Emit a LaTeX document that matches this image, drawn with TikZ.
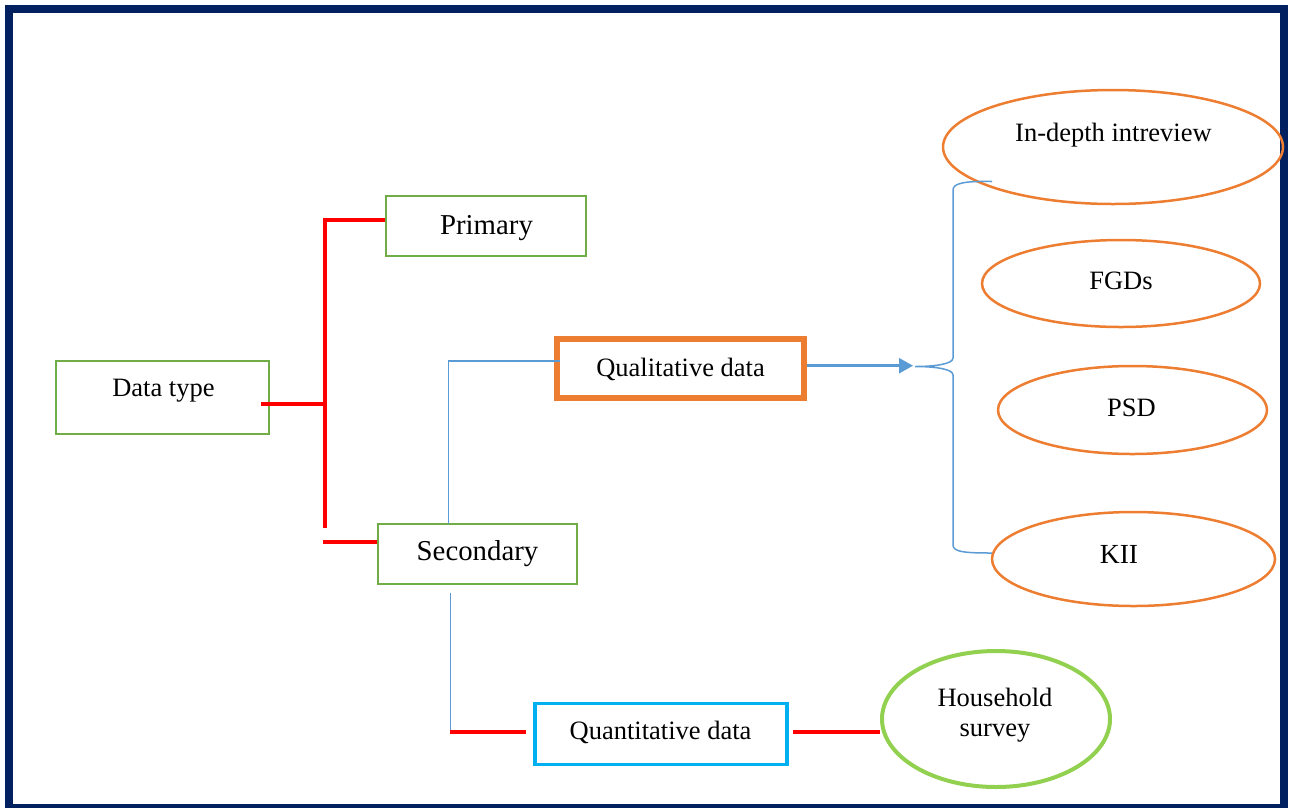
\documentclass[tikz,border=0pt]{standalone}
\usepackage{fontspec}
\setmainfont{Liberation Serif}
\usetikzlibrary{shapes.geometric,arrows.meta}

\definecolor{navy}{HTML}{002060}
\definecolor{boxgreen}{HTML}{70AD47}
\definecolor{ovalorange}{HTML}{ED7D31}
\definecolor{linkblue}{HTML}{5B9BD5}
\definecolor{quantcyan}{HTML}{00B0F0}
\definecolor{lightgreen}{HTML}{92D050}

\tikzset{
  gbox/.style={draw=boxgreen, line width=2, inner sep=0, rectangle},
  oval/.style={draw=ovalorange, line width=2.5, ellipse, inner sep=0},
  txt/.style={font=\fontsize{26.5}{30}\selectfont, anchor=base, inner sep=0},
  bigtxt/.style={font=\fontsize{28.8}{32}\selectfont, anchor=base, inner sep=0},
  redlink/.style={draw=red, line width=4},
  bluelink/.style={draw=linkblue, line width=1.5},
}

\begin{document}
\begin{tikzpicture}[x=1pt, y=-1pt]
\useasboundingbox (0,0) rectangle (1290,807);

% outer frame
\draw[navy, line width=8] (9,9) rectangle (1284,808);

% boxes
\node[gbox, minimum width=213, minimum height=73] (dt) at (162.5,397.5) {};
\node[txt] (dtt) at (163.4,396.7) {Data type};

\node[gbox, minimum width=200, minimum height=60] (prim) at (486,226) {};
\node[bigtxt] (primt) at (486.5,234) {Primary};

\node[gbox, minimum width=199, minimum height=60] (sec) at (477.5,554) {};
\node[bigtxt] (sect) at (477.5,560) {Secondary};

\node[draw=ovalorange, line width=6, inner sep=0, minimum width=247, minimum height=59] (qual) at (680.5,368.5) {};
\node[txt] (qualt) at (680.5,376.5) {Qualitative data};

\node[draw=quantcyan, line width=3.5, inner sep=0, minimum width=252, minimum height=61] (quant) at (661,734) {};
\node[txt] (quantt) at (660.5,739.5) {Quantitative data};

% ovals
\node[oval, minimum width=340, minimum height=114] (idi) at (1113,147) {};
\node[txt] (idit) at (1113.4,141.7) {In-depth intreview};

\node[oval, minimum width=278, minimum height=87] (fgd) at (1121,283.5) {};
\node[txt] (fgdt) at (1121,289.5) {FGDs};

\node[oval, minimum width=269, minimum height=88] (psd) at (1132.5,410) {};
\node[txt] (psdt) at (1131.5,416.5) {PSD};

\node[oval, minimum width=283, minimum height=94] (kii) at (1133.5,559) {};
\node[font=\fontsize{27.6}{30}\selectfont, anchor=base, inner sep=0] (kiit) at (1119,563.3) {KII};

\node[draw=lightgreen, line width=4, ellipse, inner sep=0, minimum width=228, minimum height=136] (hh) at (996,719) {};
\node[font=\fontsize{26.5}{30}\selectfont, align=center, inner sep=0] (hht) at (995,715.5) {Household\\survey};

% red tree from Data type
\coordinate (dtout) at (261,404);
\coordinate (trunkmid) at (324.7,404);
\coordinate (trunktop) at (324.7,220);
\coordinate (trunkbot) at (324.7,528);
\coordinate (secin) at (322.7,542);
\draw[redlink] (dtout) -- (trunkmid);
\draw[redlink] ([yshift=1.7]trunktop) -- (trunkbot);
\draw[redlink] (trunktop) -- (trunktop -| prim.west);
\draw[redlink] (secin) -- (secin -| sec.west);

% Secondary to Qualitative data
\coordinate (secup) at (448.5,524);
\coordinate (qualin) at (560,361);
\draw[bluelink] (secup) |- (qualin);

% Secondary to Quantitative data
\coordinate (secdown) at (450.7,592.7);
\coordinate (quantin) at (450.7,731.7);
\draw[bluelink] (secdown) -- (quantin);
\draw[redlink] ([xshift=-0.7]quantin) -- (526,731.7);

% Quantitative data to Household survey
\coordinate (quantout) at (793,732);
\draw[redlink] (quantout) -- (quantout -| hh.west);

% Qualitative data to the brace
\coordinate (bracetip) at (915,366.5);
\draw[draw=linkblue, line width=2.5, -{Triangle[length=14pt,width=15pt]}]
  (qual.east |- 0,365.7) -- (913,365.7);

% brace gathering the qualitative methods
\draw[bluelink]
  (992,181.5) .. controls (965,181) and (953,183) .. (953,190)
  -- (953,358) .. controls (953,364) and (935,366.5) .. (bracetip)
  .. controls (935,366.5) and (953,369) .. (953,375)
  -- (953,545) .. controls (953,552) and (965,553) .. (992,553);
\end{tikzpicture}
\end{document}
